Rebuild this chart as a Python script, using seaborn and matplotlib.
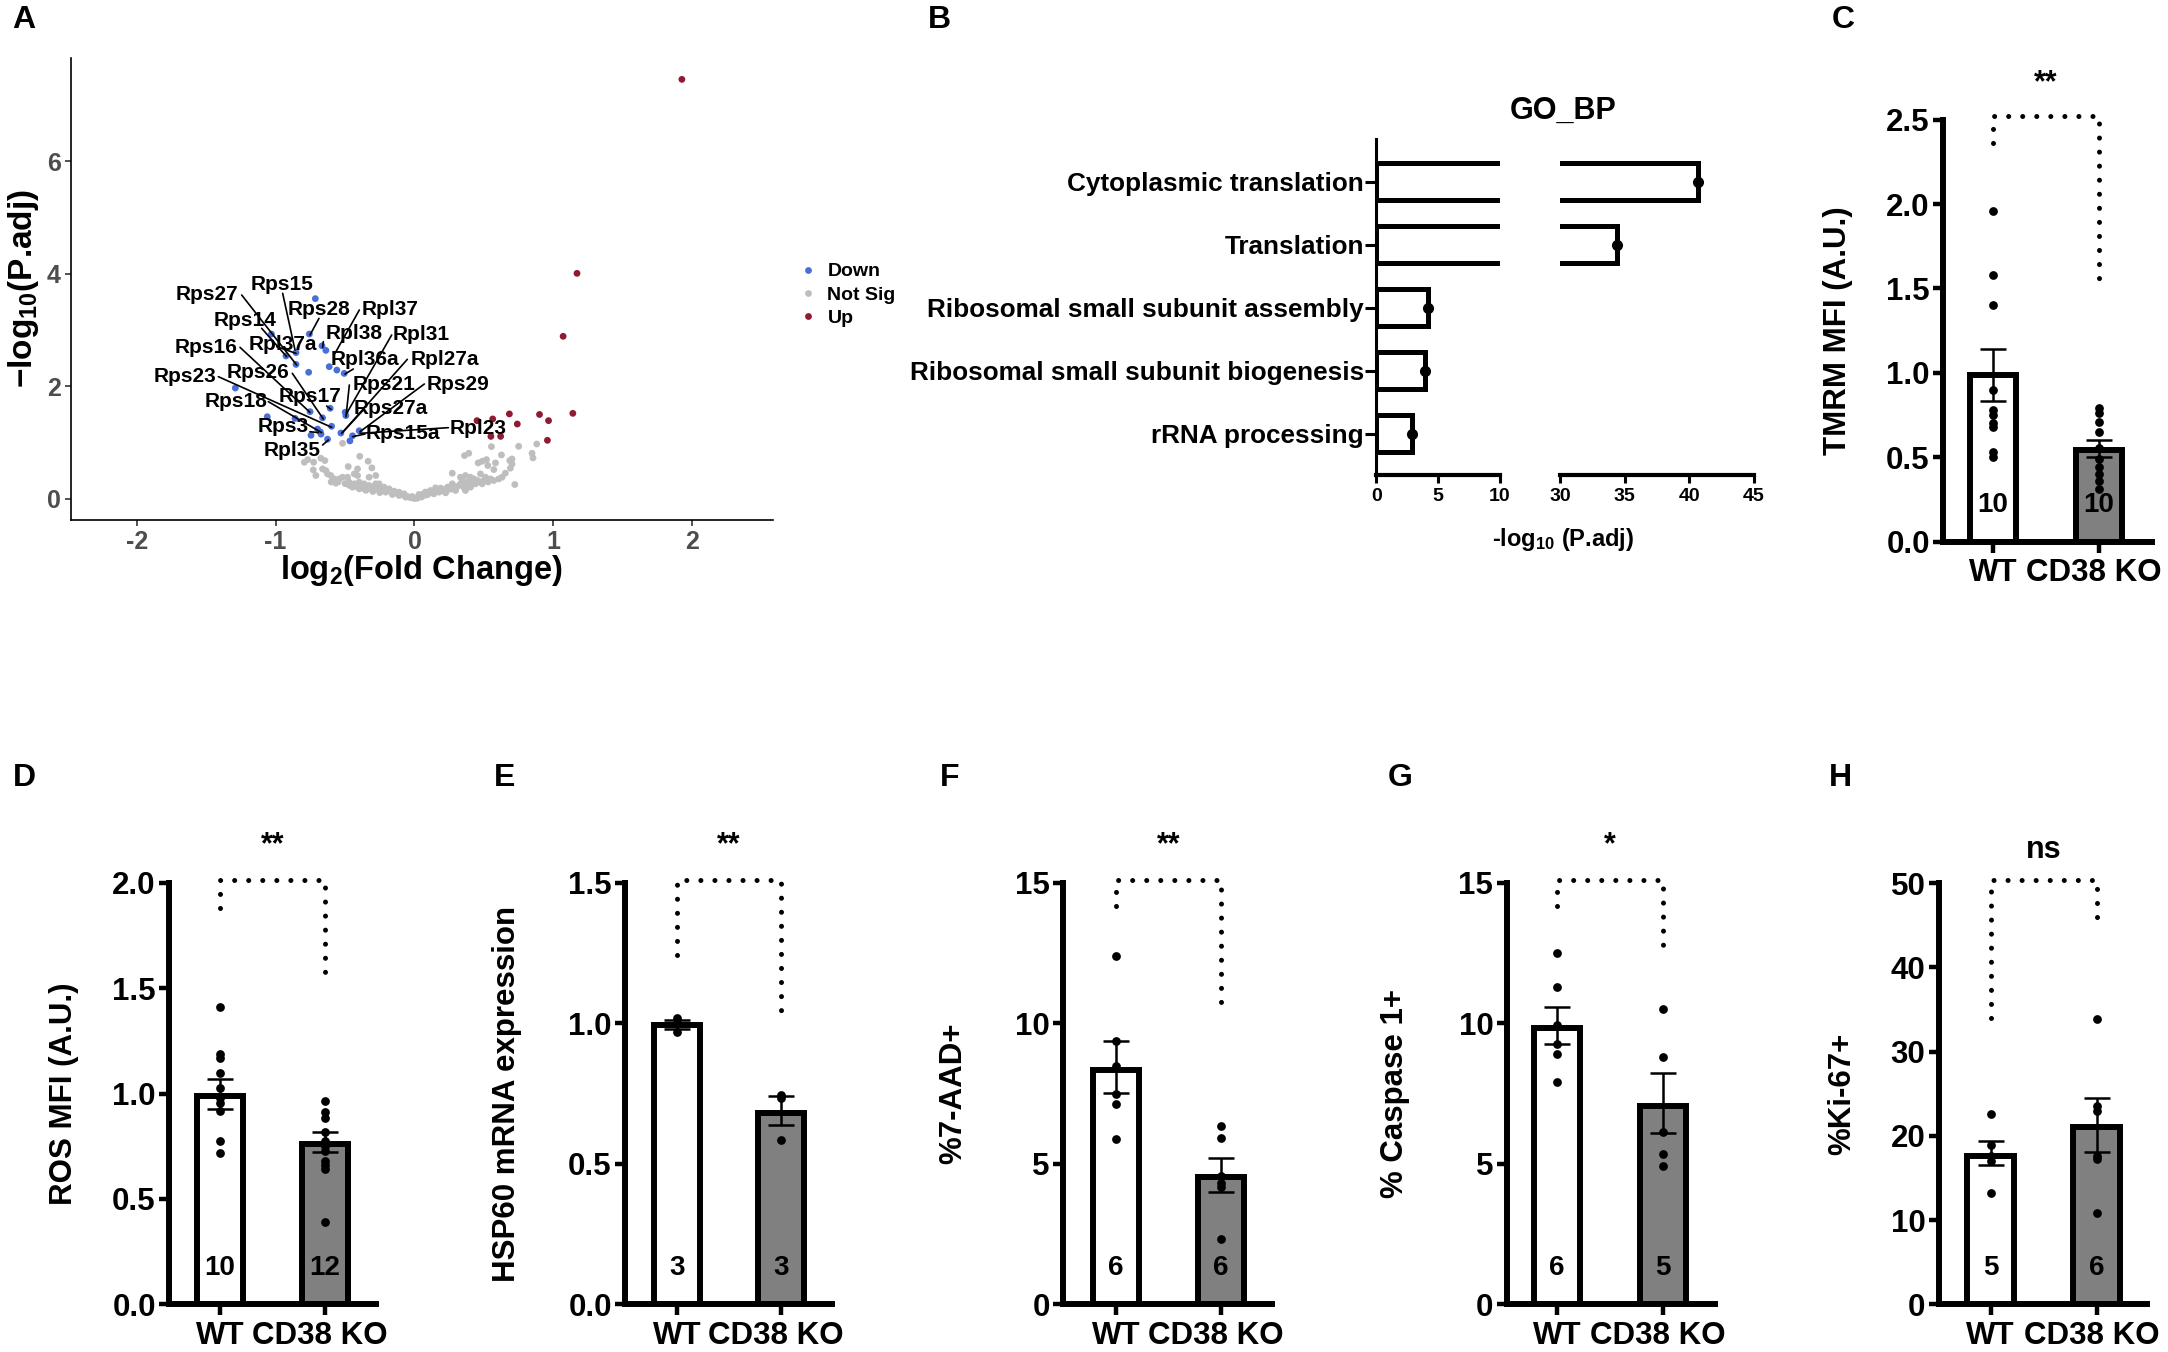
import pandas as pd
import seaborn as sns
import matplotlib.pyplot as plt
from matplotlib.transforms import ScaledTranslation

W, H = 2168, 1352

# panel A, volcano plot
down_x = [-0.714, -0.757, -0.666, -0.638, -1.03, -0.853, -0.925, -0.853, -0.762, -0.614, -0.559, -0.506, -1.29, -0.607, -0.752,
          -0.662, -1.06, -0.86, -0.499, -0.494, -0.597, -0.698, -0.678, -0.745, -0.673, -0.626, -0.53, -0.398, -0.446, -0.465]
down_y = [3.56, 2.93, 2.72, 2.64, 2.93, 2.60, 2.54, 2.39, 2.25, 2.35, 2.29, 2.23, 1.97, 1.61, 1.55,
          1.44, 1.46, 1.43, 1.54, 1.48, 1.29, 1.24, 1.19, 1.13, 1.15, 1.06, 1.17, 1.21, 1.12, 1.03]
up_x = [1.925, 1.17, 1.07, 1.14, 0.90, 0.965, 0.683, 0.563, 0.45, 0.74, 0.957, 0.55, 0.62]
up_y = [7.46, 4.01, 2.89, 1.52, 1.50, 1.39, 1.51, 1.42, 1.39, 1.33, 1.04, 1.11, 1.11]
ns_x = [-.518, -.394, -.334, -.307, -.477, -.410, -.793, -.769, -.726, -.674, -.645, -.729, -.710, -.662, -.638, -.279, -.434,
        -.410, -.327, -.626, -.602, -.578, -.566, -.542, -.518, -.482, -.470, -.434, -.398, -.362, -.327, -.446, -.398, -.362,
        -.315, -.279, -.255, -.219, -.183, -.147, -.111, -.075, -.279, -.243, -.207, -.159, -.111, -.063, -.015, .032, .080, .056,
        .554, .750, .880, .846, .853, .626, .391, .360, .518, .487, .458, .702, .686, .583, .528, .702, .690, .571, .272, .654,
        .630, .722, .331, .367, .403, .427, .343, .379, .475, .511, .547, .571, .607, .439, .487, .403, .355, .320, .272, .260,
        .296, .224, .188, .152, .116, .080, .032, -.016, .367, .176, .224, .140, .092, .044,
        -.60, -.55, -.50, -.47, -.42, -.38, -.34, -.30, -.26, -.24, -.20, -.17, -.13, -.09, -.05, -.03, 0, -.35, -.30, -.25,
        .02, .05, .07, .10, .13, .16, .19, .21, .24, .26, .28, .30, .33, .35, .38, .40, .42, .45, .47, .50, .53, .36]
ns_y = [.987, .756, .668, .550, .573, .532, .650, .697, .650, .721, .680, .514, .414, .532, .502, .414, .443,
        .414, .384, .443, .414, .354, .278, .354, .384, .384, .295, .266, .295, .266, .236, .207, .177, .177,
        .177, .266, .266, .207, .177, .136, .118, .089, .177, .148, .118, .077, .059, .029, .018, .041, .118, .077,
        .928, .934, .975, .810, .727, .780, .810, .768, .697, .668, .638, .709, .680, .638, .591, .620, .544, .520, .455, .455,
        .384, .254, .384, .414, .384, .354, .325, .295, .443, .384, .354, .325, .354, .266, .266, .207, .207, .236, .266, .207,
        .148, .177, .189, .195, .148, .118, .077, .041, .148, .118, .106, .089, .071, .047,
        .30, .30, .27, .24, .22, .22, .20, .21, .20, .19, .16, .13, .10, .07, .04, .02, .005, .15, .13, .11,
        .01, .03, .06, .09, .12, .14, .14, .14, .21, .17, .23, .20, .26, .25, .24, .27, .30, .33, .30, .33, .30, .19]

genes = ["Rps15", "Rps27", "Rps28", "Rpl37", "Rps14", "Rpl38", "Rpl31", "Rpl37a", "Rps16", "Rpl36a", "Rpl27a",
         "Rps26", "Rps23", "Rps21", "Rps29", "Rps17", "Rps18", "Rps27a", "Rps3", "Rpl23", "Rps15a", "Rpl35"]
# label centre, leader start, leader end, measured on the crop at (130,250) x3
gene_text = [(455, 103), (232, 135), (567, 178), (780, 178), (345, 210), (673, 250), (875, 253), (458, 283), (228, 292), (705, 328), (945, 328),
             (385, 367), (165, 380), (762, 402), (985, 402), (540, 438), (318, 455), (782, 477), (460, 530), (1045, 535), (818, 552), (487, 603)]
gene_from = [(458, 130), (335, 135), (567, 205), (688, 180), (395, 235), (580, 275), (785, 255), (440, 290), (330, 292), (670, 357), (832, 328),
             (487, 370), (265, 380), (658, 405), (883, 402), (590, 468), (415, 455), (700, 480), (540, 545), (955, 533), (705, 552), (578, 585)]
gene_to = [(495, 300), (500, 345), (540, 255), (615, 310), (470, 320), (578, 292), (650, 490), (498, 310), (540, 487), (645, 372), (635, 550),
           (580, 507), (605, 532), (648, 500), (690, 545), (603, 478), (575, 548), (640, 545), (565, 548), (690, 550), (668, 560), (595, 570)]

# panel B
terms = ["Cytoplasmic translation", "Translation", "Ribosomal small subunit assembly", "Ribosomal small subunit biogenesis", "rRNA processing"]
go_values = [40.7, 34.4, 4.2, 3.9, 2.9]

# panels C to H
groups = ["WT", "CD38 KO"]
c_wt = [1.96, 1.58, 1.40, 0.90, 0.78, 0.75, 0.70, 0.68, 0.53, 0.50]
c_ko = [0.79, 0.76, 0.71, 0.65, 0.555, 0.49, 0.44, 0.40, 0.36, 0.31]
d_wt = [1.41, 1.19, 1.17, 1.10, 1.025, 0.98, 0.955, 0.92, 0.775, 0.72]
d_ko = [0.965, 0.915, 0.885, 0.817, 0.775, 0.757, 0.75, 0.73, 0.68, 0.66, 0.64, 0.39]
e_wt = [1.02, 1.0, 0.97]
e_ko = [0.745, 0.735, 0.585]
f_wt = [12.4, 9.38, 8.47, 7.5, 7.13, 5.87]
f_ko = [6.36, 5.93, 4.57, 4.31, 4.18, 2.32]
g_wt = [12.5, 11.29, 9.94, 9.25, 8.92, 7.91]
g_ko = [10.5, 8.79, 6.13, 5.35, 4.94]
h_wt = [22.6, 18.9, 17.6, 17.0, 13.2]
h_ko = [33.9, 23.5, 23.0, 17.6, 17.2, 10.8]

c_mean, d_mean, e_mean, f_mean, g_mean, h_mean = [0.985, 0.54], [0.99, 0.762], [0.993, 0.68], [8.34, 4.53], [9.83, 7.06], [17.6, 21.0]
c_err = [(0.83, 1.14), (0.50, 0.60)]
d_err = [(0.925, 1.07), (0.725, 0.82)]
e_err = [(0.98, 1.013), (0.64, 0.743)]
f_err = [(7.52, 9.36), (4.01, 5.22)]
g_err = [(9.25, 10.6), (6.09, 8.23)]
h_err = [(16.5, 19.4), (18.1, 24.5)]
c_ends, d_ends, e_ends, f_ends, g_ends, h_ends = (2.36, 1.48), (1.88, 1.557), (1.243, 1.025), (14.18, 10.68), (14.18, 12.45), (34, 44.5)

sns.set_theme(style="ticks", rc={"text.color": "black", "axes.labelcolor": "black", "axes.edgecolor": "black",
                                 "xtick.color": "black", "ytick.color": "black"})
plt.rcParams["font.family"] = ["Liberation Sans", "DejaVu Sans"]
plt.rcParams["font.weight"] = "bold"
plt.rcParams["mathtext.fontset"] = "custom"
plt.rcParams["mathtext.rm"] = "Liberation Sans:bold"
plt.rcParams["mathtext.default"] = "rm"

fig = plt.figure(figsize=(W / 100, H / 100), dpi=100)


def box(left, top, right, bottom):
    # axes from pixel edges of the reference
    return fig.add_axes([left / W, 1 - bottom / H, (right - left) / W, (bottom - top) / H])


def put(x, y, s, **kw):
    kw.setdefault("ha", "center")
    kw.setdefault("va", "center")
    fig.text(x / W, 1 - y / H, s, **kw)


for letter, x, y in [("A", 24, 20), ("B", 939, 20), ("C", 1843, 20), ("D", 24, 778), ("E", 505, 778), ("F", 950, 778), ("G", 1400, 778), ("H", 1840, 778)]:
    put(x, y, letter, fontsize=23)

# A
volcano = pd.DataFrame({
    "lfc": down_x + ns_x + up_x,
    "padj": down_y + ns_y + up_y,
    "group": ["Down"] * len(down_x) + ["Not Sig"] * len(ns_x) + ["Up"] * len(up_x),
})
ax = box(71, 58, 773, 519.6)
sns.scatterplot(data=volcano, x="lfc", y="padj", hue="group", hue_order=["Down", "Not Sig", "Up"],
                palette=["#4A6FD8", "#BEBEBE", "#8E1B33"], s=24, linewidth=0, ax=ax)
ax.set_xlim(-2.473, 2.581)
ax.set_ylim(-0.37, 7.84)
ax.set_xticks([-2, -1, 0, 1, 2])
ax.set_xticklabels(["-2", "-1", "0", "1", "2"])
ax.set_yticks([0, 2, 4, 6])
ax.tick_params(labelsize=18, labelcolor="#4d4d4d", width=1.2, length=4, color="#333333")
ax.set_xlabel("")
ax.set_ylabel("")
sns.despine(ax=ax)
for side in ["left", "bottom"]:
    ax.spines[side].set_linewidth(1.2)
ax.legend(frameon=False, loc="center left", fontsize=14, handletextpad=0.0, labelspacing=0.3,
          bbox_to_anchor=(700 / 702, (519.6 - 295) / 461.6))
put(421, 570, "log$_2$(Fold Change)", fontsize=23.5)
put(24, 289, "$-$log$_{10}$(P.adj)", fontsize=24, rotation=90)

for name, t, a, b in zip(genes, gene_text, gene_from, gene_to):
    ax.annotate("", xy=(130 + b[0] / 3, H - 250 - b[1] / 3), xycoords="figure pixels",
                xytext=(130 + a[0] / 3, H - 250 - a[1] / 3), textcoords="figure pixels",
                arrowprops=dict(arrowstyle="-", lw=1.2, color="black", shrinkA=0, shrinkB=0))
    put(130 + t[0] / 3, 250 + t[1] / 3, name, fontsize=15)

# B, broken axis drawn as two axes
go = pd.DataFrame({"term": terms, "value": go_values})
ax1 = box(1376.3, 139.5, 1500, 474.5)
ax2 = box(1560, 139.5, 1754, 474.5)
for a in [ax1, ax2]:
    sns.barplot(data=go, x="value", y="term", orient="h", color="white", edgecolor="black", linewidth=3.6,
                width=0.585, saturation=1, ax=a)
    sns.stripplot(data=go, x="value", y="term", orient="h", jitter=False, color="black", size=8, ax=a, zorder=5)
    a.set_ylim(4.65, -0.67)
    a.set_xlabel("")
    a.set_ylabel("")
    a.patch.set_alpha(0)
    sns.despine(ax=a)
    a.spines["bottom"].set_linewidth(3)
    a.tick_params(axis="x", labelsize=14, width=2.2, length=6)
ax1.set_xlim(0, 10)
ax1.set_xticks([0, 5, 10])
ax2.set_xlim(30, 45)
ax2.set_xticks([30, 35, 40, 45])
ax1.spines["left"].set_linewidth(2.2)
ax1.tick_params(axis="y", labelsize=18.8, width=2.2, length=8, pad=1)
ax2.spines["left"].set_visible(False)
ax2.tick_params(axis="y", left=False, labelleft=False)
put(1563, 111, "GO_BP", fontsize=22)
put(1563, 540, "-log$_{10}$ (P.adj)", fontsize=17)


def bar_panel(left, right, top, bottom, wt_x, ko_x, wt, ko, means, errs, ends, ymax, yticks, fmt, ylabel, label_x, stars, stars_y):
    ax = box(left, top, right, bottom)
    span = ko_x - wt_x
    sns.barplot(x=groups, y=means, hue=groups, palette=["white", "#808080"], saturation=1, edgecolor="black",
                linewidth=4.3, width=0.44, legend=False, ax=ax)
    long = pd.DataFrame({"group": [groups[0]] * len(wt) + [groups[1]] * len(ko), "value": wt + ko})
    sns.stripplot(data=long, x="group", y="value", jitter=False, color="black", size=6.3, ax=ax, zorder=5, clip_on=False)
    low = [m - e[0] for m, e in zip(means, errs)]
    high = [e[1] - m for m, e in zip(means, errs)]
    ax.errorbar([0, 1], means, yerr=[low, high], fmt="none", ecolor="black", elinewidth=1.8, capsize=9.5, capthick=1.8, zorder=4, clip_on=False)
    ax.plot([0, 0, 1, 1], [ends[0], ymax * 1.008, ymax * 1.008, ends[1]], ls=(0, (0.01, 2.8)), lw=3.6,
            dash_capstyle="round", color="black", clip_on=False)
    ax.set_xlim((left - wt_x) / span, (right - wt_x) / span)
    ax.set_ylim(0, ymax)
    ax.set_yticks(yticks)
    ax.set_yticklabels([fmt % v for v in yticks])
    ax.set_xticks([0, 1])
    ax.set_xticklabels(groups)
    ax.set_xlabel("")
    ax.set_ylabel("")
    sns.despine(ax=ax)
    ax.spines["left"].set_linewidth(4.3)
    ax.spines["bottom"].set_linewidth(4.3)
    ax.tick_params(axis="y", labelsize=22.5, width=3.2, length=7.5, pad=2)
    ax.tick_params(axis="x", labelsize=22.5, width=3.2, length=8, pad=4)
    # CD38 KO sits a little left of its tick in the reference
    lab = ax.get_xticklabels()[1]
    lab.set_transform(lab.get_transform() + ScaledTranslation(-5 / 100, 0, fig.dpi_scale_trans))
    ax.patch.set_alpha(0)
    trans = ax.get_xaxis_transform()
    ax.text(0, 0.087, str(len(wt)), transform=trans, ha="center", va="center", fontsize=20, zorder=6)
    ax.text(1, 0.087, str(len(ko)), transform=trans, ha="center", va="center", fontsize=20, zorder=6)
    put(label_x, (top + bottom) / 2, ylabel, fontsize=22.5, rotation=90)
    put((wt_x + ko_x) / 2, stars_y, stars, fontsize=22)


bar_panel(1943, 2152, 119.8, 541.5, 1993, 2099, c_wt, c_ko, c_mean, c_err, c_ends, 2.5, [0, 0.5, 1, 1.5, 2, 2.5], "%.1f", "TMRM MFI (A.U.)", 1838, "**", 83)
bar_panel(169, 376, 883, 1304.3, 220, 325, d_wt, d_ko, d_mean, d_err, d_ends, 2.0, [0, 0.5, 1, 1.5, 2], "%.1f", "ROS MFI (A.U.)", 64, "**", 845)
bar_panel(625, 832, 883, 1304.3, 677, 781, e_wt, e_ko, e_mean, e_err, e_ends, 1.5, [0, 0.5, 1, 1.5], "%.1f", "HSP60 mRNA expression", 507, "**", 845)
bar_panel(1063, 1272, 883, 1304.3, 1116, 1221, f_wt, f_ko, f_mean, f_err, f_ends, 15, [0, 5, 10, 15], "%d", "%7-AAD+", 953, "**", 845)
bar_panel(1506.5, 1715, 883, 1304.3, 1557, 1663, g_wt, g_ko, g_mean, g_err, g_ends, 15, [0, 5, 10, 15], "%d", "% Caspase 1+", 1395, "*", 845)
bar_panel(1938.6, 2147, 883, 1304.3, 1990.7, 2096.5, h_wt, h_ko, h_mean, h_err, h_ends, 50, [0, 10, 20, 30, 40, 50], "%d", "%Ki-67+", 1842, "ns", 850)

fig.savefig("out.png", dpi=100)
